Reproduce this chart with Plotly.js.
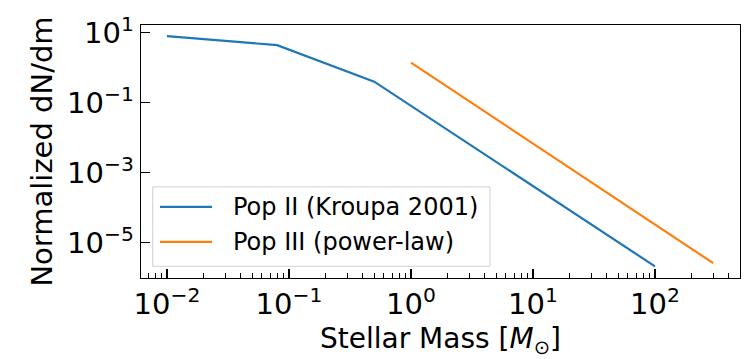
<!DOCTYPE html>
<html>
<head>
<meta charset="utf-8">
<script src="https://cdn.plot.ly/plotly-3.0.1.min.js"></script>
<style>html,body{margin:0;padding:0;background:#fff;}#chart{width:756px;height:359px;}</style>
</head>
<body>
<div id="chart"></div>
<script>
// Pop II (Kroupa 2001) broken power law, read at break points
const popIIMass = [0.01, 0.08, 0.5, 100];
const popIIdNdm = [8.0, 4.4, 0.40, 2.1e-6];
// Pop III power law
const popIIIMass = [1, 300];
const popIIIdNdm = [1.4, 2.6e-6];
const seriesNames = ["Pop II (Kroupa 2001)", "Pop III (power-law)"];
const seriesColors = ["#1f77b4", "#ff7f0e"];

// tick labels
const xTickExp = [-2, -1, 0, 1, 2];
const yTickExp = [1, -1, -3, -5];
const powLabel = e => "10<sup>" + (e < 0 ? "\u2212" + (-e) : e) + "</sup>";

const FONT = "DejaVu Sans, sans-serif";

// plot area in pixels (for legend placement)
const PL = 141, PR = 740, PT = 25, PB = 277.7;
const px = v => (v - PL) / (PR - PL);
const py = v => (PB - v) / (PB - PT);

// minor tick positions (2..9 per decade)
const minorX = [];
for (let e = -3; e <= 2; e++) for (let k = 2; k <= 9; k++) minorX.push(k * Math.pow(10, e));

const traces = [
  {x: popIIMass, y: popIIdNdm, mode: "lines", name: seriesNames[0],
   line: {color: seriesColors[0], width: 2.2}},
  {x: popIIIMass, y: popIIIdNdm, mode: "lines", name: seriesNames[1],
   line: {color: seriesColors[1], width: 2.2}}
];

// manual legend matching matplotlib layout
const legRows = [206.7, 241.7];
const shapes = [
  {type: "rect", xref: "paper", yref: "paper", x0: px(152.7), x1: px(490), y0: py(266), y1: py(186.7),
   line: {color: "#d0d0d0", width: 1}, fillcolor: "rgba(255,255,255,0.85)", layer: "above"}
];
const annotations = [];
seriesNames.forEach((n, i) => {
  shapes.push({type: "line", xref: "paper", yref: "paper", x0: px(160), x1: px(212), y0: py(legRows[i]), y1: py(legRows[i]),
    line: {color: seriesColors[i], width: 2.2}, layer: "above"});
  annotations.push({xref: "paper", yref: "paper", x: px(231), y: py(legRows[i]), xanchor: "left", yanchor: "middle",
    text: n, showarrow: false, font: {family: FONT, size: 24, color: "#000"}});
});

const layout = {
  width: 756, height: 359,
  margin: {l: 141, r: 16, t: 25, b: 81.3},
  paper_bgcolor: "#fff", plot_bgcolor: "#fff",
  font: {family: FONT, color: "#000", size: 27},
  showlegend: false,
  shapes: shapes,
  annotations: annotations,
  xaxis: {
    type: "log", range: [-2.213, 2.697],
    showline: true, linecolor: "#000", linewidth: 1.3, mirror: true,
    showgrid: false, zeroline: false,
    ticks: "inside", ticklen: 9, tickwidth: 1.2, tickcolor: "#000",
    tickmode: "array", tickvals: xTickExp.map(e => Math.pow(10, e)), ticktext: xTickExp.map(powLabel),
    tickfont: {family: FONT, size: 29},
    minor: {ticks: "inside", ticklen: 5, tickwidth: 1, tickcolor: "#000", tickvals: minorX, showgrid: false},
    title: {text: "Stellar Mass [<i>M</i><sub>⊙</sub>]", font: {family: FONT, size: 28}, standoff: 10}
  },
  yaxis: {
    type: "log", range: [-6.01, 1.22],
    showline: true, linecolor: "#000", linewidth: 1.3, mirror: true,
    showgrid: false, zeroline: false,
    ticks: "inside", ticklen: 9, tickwidth: 1.2, tickcolor: "#000",
    tickmode: "array", tickvals: yTickExp.map(e => Math.pow(10, e)), ticktext: yTickExp.map(powLabel),
    tickfont: {family: FONT, size: 29},
    title: {text: "Normalized dN/dm", font: {family: FONT, size: 29}, standoff: 6}
  }
};

Plotly.newPlot("chart", traces, layout, {displayModeBar: false, staticPlot: true});
</script>
</body>
</html>
